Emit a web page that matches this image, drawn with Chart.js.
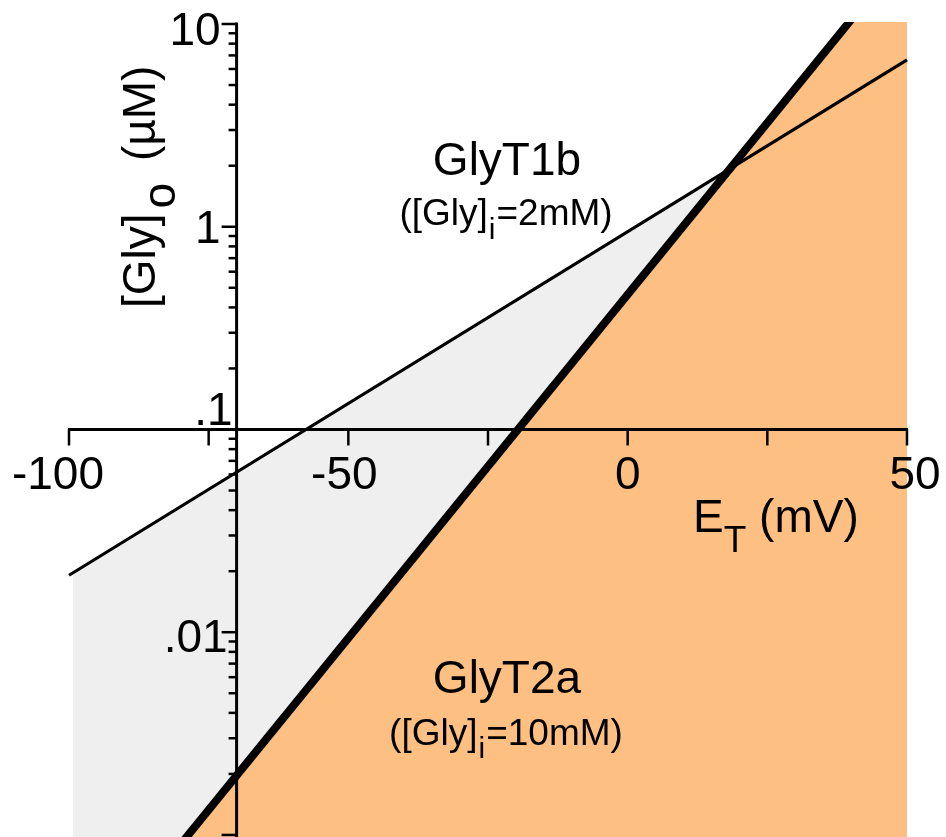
<!DOCTYPE html>
<html><head><meta charset="utf-8">
<script src="https://cdn.jsdelivr.net/npm/chart.js@4.4.1/dist/chart.umd.min.js"></script>
<style>html,body{margin:0;padding:0;background:#fff;overflow:hidden;}</style>
</head><body>
<canvas id="c" width="946" height="837"></canvas>
<script>
// ---- data ----
const glyT1bVoltage = [-100, 50];
const glyT1bGlyOut = [0.0191, 6.65];
const glyT2aVoltage = [-80, 40];
const glyT2aGlyOut = [0.00090, 10.5];
const greyRegionVoltage = [-99.3, 18.4];
const greyRegionGlyOut = [0.0196, 1.94];
const orangeRegionVoltage = [-80, 40, 50];
const orangeRegionGlyOut = [0.00090, 10.5, 10.5];
const xTickValues = [-100, -75, -50, -25, 0, 25, 50];
const xLabelValues = [-100, -50, 0, 50];
const xLabelTexts = ['-100', '-50', '0', '50'];
const yMajorValues = [10, 1, 0.1, 0.01, 0.001];
const yLabelTexts = ['10', '1', '.1', '.01', ''];
const yMinorMultipliers = [2, 3, 4, 5, 6, 7, 8, 9];
const xAxisCrossY = 0.1;
const yAxisCrossX = -70;

const pts = (xs, ys) => xs.map((x, i) => ({x: x, y: ys[i]}));
const FONT = '"Liberation Sans", Arial, Helvetica, sans-serif';

function drawRich(ctx, parts, x, y, align) {
  let total = 0;
  parts.forEach(p => { ctx.font = p.size + 'px ' + FONT; p.w = ctx.measureText(p.t).width; total += p.w + (p.gap || 0); });
  let cx = align === 'center' ? x - total / 2 : x;
  ctx.textAlign = 'left';
  ctx.textBaseline = 'alphabetic';
  parts.forEach(p => {
    cx += (p.gap || 0);
    ctx.font = p.size + 'px ' + FONT;
    ctx.fillText(p.t, cx, y + (p.dy || 0));
    cx += p.w;
  });
}

const axesPlugin = {
  id: 'customAxes',
  afterDatasetsDraw(chart) {
    const ctx = chart.ctx, xs = chart.scales.x, ys = chart.scales.y;
    const ay = ys.getPixelForValue(xAxisCrossY);
    const ax = xs.getPixelForValue(yAxisCrossX);
    ctx.save();
    ctx.strokeStyle = '#000';
    ctx.lineCap = 'butt';
    // x axis
    ctx.lineWidth = 3;
    ctx.beginPath();
    ctx.moveTo(xs.getPixelForValue(xTickValues[0]) - 1, ay);
    ctx.lineTo(xs.getPixelForValue(xTickValues[xTickValues.length - 1]) + 1, ay);
    ctx.stroke();
    ctx.lineWidth = 2.5;
    xTickValues.forEach(v => {
      const px = xs.getPixelForValue(v);
      ctx.beginPath(); ctx.moveTo(px, ay); ctx.lineTo(px, ay + 16); ctx.stroke();
    });
    // y axis
    ctx.lineWidth = 3;
    ctx.beginPath();
    ctx.moveTo(ax, ys.getPixelForValue(yMajorValues[0]) - 1.5);
    ctx.lineTo(ax, ys.getPixelForValue(yMajorValues[yMajorValues.length - 1]) + 2);
    ctx.stroke();
    ctx.lineWidth = 2.5;
    yMajorValues.forEach(v => {
      const py = ys.getPixelForValue(v);
      ctx.beginPath(); ctx.moveTo(ax - 15, py); ctx.lineTo(ax, py); ctx.stroke();
    });
    yMajorValues.slice(1).forEach(d => {
      yMinorMultipliers.forEach(m => {
        const py = ys.getPixelForValue(d * m);
        ctx.beginPath(); ctx.moveTo(ax - 8, py); ctx.lineTo(ax, py); ctx.stroke();
      });
    });
    ctx.restore();
  },
  afterDraw(chart) {
    const ctx = chart.ctx, xs = chart.scales.x, ys = chart.scales.y;
    const ay = ys.getPixelForValue(xAxisCrossY);
    const ax = xs.getPixelForValue(yAxisCrossX);
    ctx.save();
    ctx.fillStyle = '#000';
    // x tick labels
    const xNudge = [-11, -4, 0, 8];
    ctx.font = '46px ' + FONT;
    ctx.textAlign = 'center';
    ctx.textBaseline = 'alphabetic';
    xLabelValues.forEach((v, i) => {
      ctx.fillText(xLabelTexts[i], xs.getPixelForValue(v) + xNudge[i], ay + 60);
    });
    // y tick labels
    ctx.textAlign = 'right';
    const yNudgeX = [0, 0, 12, 7, 0];
    const yNudgeY = [21, 16, -4, 20, 0];
    yMajorValues.forEach((v, i) => {
      if (!yLabelTexts[i]) return;
      ctx.fillText(yLabelTexts[i], ax - 16 + yNudgeX[i], ys.getPixelForValue(v) + yNudgeY[i]);
    });
    // x axis title
    drawRich(ctx, [
      {t: 'E', size: 46},
      {t: 'T', size: 37, dy: 20},
      {t: ' (mV)', size: 46}
    ], 693, 532, 'left');
    // y axis title (rotated)
    ctx.save();
    ctx.translate(155, 308);
    ctx.rotate(-Math.PI / 2);
    drawRich(ctx, [
      {t: '[Gly]', size: 46},
      {t: 'o', size: 46, dy: 20, gap: 5},
      {t: ' (\u00B5M)', size: 46, gap: 9}
    ], 0, 0, 'left');
    ctx.restore();
    // region labels
    drawRich(ctx, [{t: 'GlyT1b', size: 46}], 507, 175, 'center');
    drawRich(ctx, [
      {t: '([Gly]', size: 37},
      {t: 'i', size: 30, dy: 14, gap: 1},
      {t: '=2mM)', size: 37, gap: 1}
    ], 506, 225, 'center');
    drawRich(ctx, [{t: 'GlyT2a', size: 46}], 507, 693, 'center');
    drawRich(ctx, [
      {t: '([Gly]', size: 37},
      {t: 'i', size: 30, dy: 13, gap: 1},
      {t: '=10mM)', size: 37, gap: 1}
    ], 506, 745, 'center');
    ctx.restore();
  }
};

new Chart(document.getElementById('c'), {
  type: 'scatter',
  data: {
    datasets: [
      {label: 'GlyT2a', data: pts(glyT2aVoltage, glyT2aGlyOut), showLine: true, borderColor: '#000', borderWidth: 8, pointRadius: 0, fill: false, order: 1, clip: 0},
      {label: 'GlyT1b', data: pts(glyT1bVoltage, glyT1bGlyOut), showLine: true, borderColor: '#000', borderWidth: 3.2, pointRadius: 0, fill: false, order: 2, clip: 2},
      {label: 'orange', data: pts(orangeRegionVoltage, orangeRegionGlyOut), showLine: true, borderWidth: 0, borderColor: 'rgba(0,0,0,0)', backgroundColor: '#fdbf82', pointRadius: 0, fill: 'start', order: 3, clip: 0},
      {label: 'grey', data: pts(greyRegionVoltage, greyRegionGlyOut), showLine: true, borderWidth: 0, borderColor: 'rgba(0,0,0,0)', backgroundColor: '#efefef', pointRadius: 0, fill: 'start', order: 4, clip: 0}
    ]
  },
  options: {
    responsive: false,
    animation: false,
    devicePixelRatio: 1,
    layout: {padding: {left: 69, right: 39, top: 22, bottom: 0}},
    plugins: {legend: {display: false}, tooltip: {enabled: false}},
    scales: {
      x: {type: 'linear', min: -100, max: 50, display: false},
      y: {type: 'logarithmic', min: 0.000977, max: 10.23, display: false}
    }
  },
  plugins: [axesPlugin]
});
</script>
</body></html>
